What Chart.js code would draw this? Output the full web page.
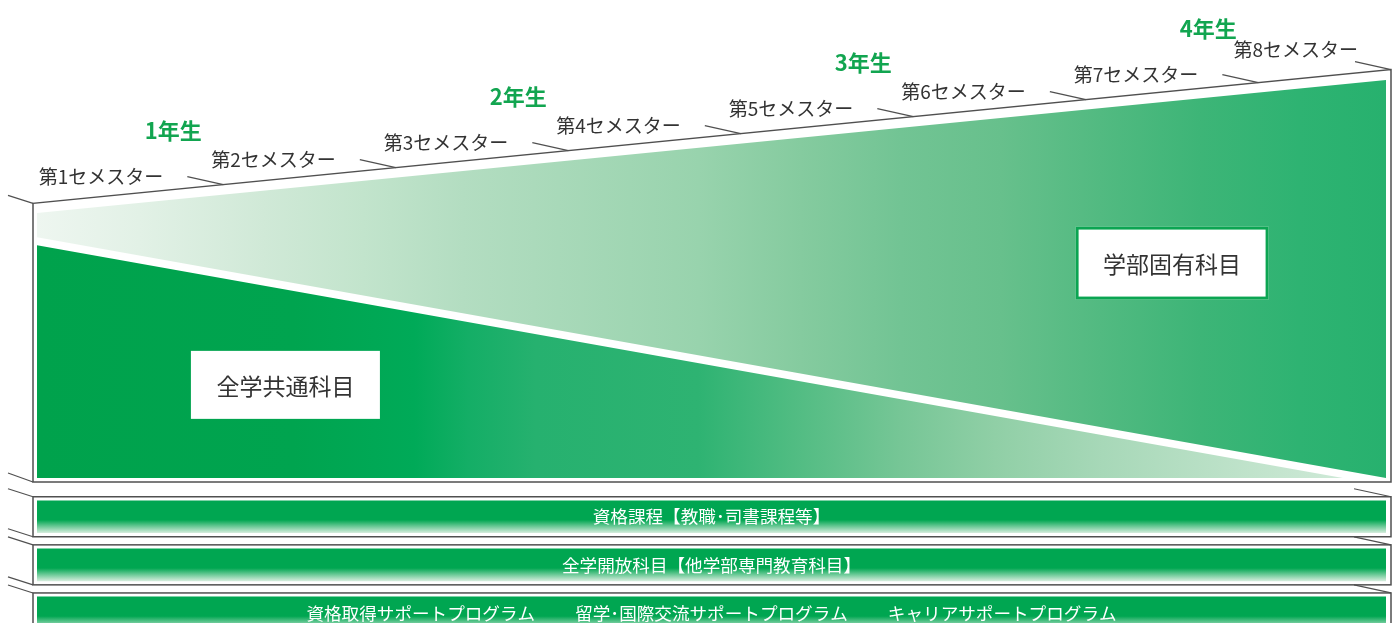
<!DOCTYPE html>
<html><head><meta charset="utf-8">
<script src="https://cdn.jsdelivr.net/npm/chart.js@4.4.1/dist/chart.umd.min.js"></script>
<style>
html,body{margin:0;padding:0;background:#fff;overflow:hidden;width:1399px;height:623px;}
#main{position:absolute;left:0;top:0;}
#bands{position:absolute;left:0;top:484px;}
</style></head><body>
<canvas id="main" width="1399" height="490"></canvas>
<canvas id="bands" width="1399" height="153"></canvas>
<script>
// ---- data ----
const semesterLabels = ['第1セメスター','第2セメスター','第3セメスター','第4セメスター','第5セメスター','第6セメスター','第7セメスター','第8セメスター'];
const semesterBoundaries = [1,2,3,4,5,6,7,8];
const yearLabels = ['1年生','2年生','3年生','4年生'];
const yearMidSemester = [1,3,5,7];
// 全学共通科目 (upper edge of the lower wedge)
const commonSubjects = [{x:-0.08,y:58.5},{x:7.49,y:0},{x:8,y:0}];
// 学部固有科目 (lower and upper edges of the upper wedge)
const facultyLower = [{x:-0.08,y:60.5},{x:8,y:-2.0}];
const facultyUpper = [{x:-0.08,y:66.6},{x:8,y:101.1}];
const areaNames = ['全学共通科目','学部固有科目'];
const programLabels = [
  ['資格課程【教職･司書課程等】'],
  ['全学開放科目【他学部専門教育科目】'],
  ['資格取得サポートプログラム','留学･国際交流サポートプログラム','キャリアサポートプログラム']
];
const programSpan = [[0,8],[0,8],[0,8]];

// ---- helpers ----
const FONT = '"Noto Sans CJK JP","Noto Sans CJK SC",sans-serif';
function hGrad(chart, stops){
  const a = chart.chartArea;
  if(!a) return stops[0][1];
  const g = chart.ctx.createLinearGradient(a.left,0,a.right,0);
  stops.forEach(([o,c])=>g.addColorStop(o,c));
  return g;
}
const commonStops = [[0,'#00a24c'],[0.19,'#00a44f'],[0.28,'#00aa58'],[0.32,'#14ae66'],[0.37,'#26b16f'],[0.49,'#2eb372'],[0.56,'#50bc82'],[0.64,'#76c696'],[0.71,'#90cfa6'],[0.79,'#a7d8b8'],[0.9,'#c0e3cb'],[1,'#d5ecdd']];
const facultyStops = [[0,'#eef6f0'],[0.076,'#e2f1e6'],[0.168,'#d0e9d7'],[0.242,'#c2e4cc'],[0.316,'#b3ddc1'],[0.491,'#98d3ad'],[0.566,'#85cb9f'],[0.64,'#72c494'],[0.714,'#67c08c'],[0.788,'#52ba81'],[0.862,'#3db577'],[0.936,'#2eb372'],[1,'#27b16e']];

function seg(c,x1,y1,x2,y2){c.beginPath();c.moveTo(x1,y1);c.lineTo(x2,y2);c.stroke();}

const mainDecor = {
  id:'mainDecor',
  afterDraw(chart){
    const c = chart.ctx, a = chart.chartArea, xs = chart.scales.x, ys = chart.scales.y;
    const p0 = {x:xs.getPixelForValue(facultyUpper[0].x), y:ys.getPixelForValue(facultyUpper[0].y)};
    const pn = facultyUpper[facultyUpper.length-1];
    const p1 = {x:xs.getPixelForValue(pn.x), y:ys.getPixelForValue(pn.y)};
    const slope = (p1.y-p0.y)/(p1.x-p0.x);
    const topAt = x => p0.y + slope*(x-p0.x) - 10;
    const L = a.left-4, R = a.right+5, B = a.bottom+4;
    c.save();
    c.strokeStyle = '#505050'; c.lineWidth = 1.5;
    c.beginPath(); c.moveTo(L,topAt(L)); c.lineTo(L,B); c.lineTo(R,B); c.lineTo(R,topAt(R)); c.closePath(); c.stroke();
    c.lineWidth = 1.2;
    seg(c, L-25, topAt(L)-8, L, topAt(L));
    seg(c, L-25, B-9, L, B);
    seg(c, R-36, topAt(R)-8, R, topAt(R));
    // semester labels
    c.font = '19px '+FONT; c.fillStyle = '#333'; c.textAlign = 'right'; c.textBaseline = 'middle';
    semesterBoundaries.forEach((b,i)=>{
      const x = Math.min(xs.getPixelForValue(b), R);
      const y = topAt(x);
      if (x < R) { seg(c, x-36, y-8, x, y); c.fillText(semesterLabels[i], x-60, y-8); }
      else { c.fillText(semesterLabels[i], x-33, y-20); }
    });
    // year labels
    c.font = 'bold 22px '+FONT; c.fillStyle = '#12a550'; c.textAlign = 'center';
    yearMidSemester.forEach((s,i)=>{
      const x = xs.getPixelForValue(s) - 50;
      c.fillText(yearLabels[i], x, topAt(x) - 59);
    });
    // area name boxes
    const boxes = [
      {name:areaNames[0], x:xs.getPixelForValue(1.36), y:ys.getPixelForValue(23.4), w:189, h:68, border:false},
      {name:areaNames[1], x:xs.getPixelForValue(6.5), y:ys.getPixelForValue(54.0), w:193, h:73, border:true}
    ];
    boxes.forEach(bx=>{
      c.fillStyle = '#fff';
      c.fillRect(bx.x-bx.w/2, bx.y-bx.h/2, bx.w, bx.h);
      if (bx.border){ c.strokeStyle = '#0ba552'; c.lineWidth = 3; c.strokeRect(bx.x-bx.w/2+1.5, bx.y-bx.h/2+1.5, bx.w-3, bx.h-3); }
      c.fillStyle = '#333'; c.font = '23px '+FONT; c.textAlign = 'center'; c.textBaseline = 'middle';
      c.fillText(bx.name, bx.x, bx.y+1);
    });
    c.restore();
  }
};

new Chart(document.getElementById('main'), {
  type:'line',
  data:{
    datasets:[
      {label:areaNames[0], data:commonSubjects, fill:'origin', borderWidth:0, pointRadius:0,
       backgroundColor:(ctx)=>hGrad(ctx.chart, commonStops)},
      {label:'faculty-lower', data:facultyLower, fill:false, borderWidth:0, pointRadius:0, backgroundColor:'transparent', borderColor:'transparent'},
      {label:areaNames[1], data:facultyUpper, fill:'-1', borderWidth:0, pointRadius:0,
       backgroundColor:(ctx)=>hGrad(ctx.chart, facultyStops)}
    ]
  },
  options:{
    responsive:false, animation:false, events:[],
    layout:{padding:{left:37,right:13,top:80,bottom:12}},
    plugins:{legend:{display:false}, tooltip:{enabled:false}},
    scales:{
      x:{type:'linear', min:-0.08, max:7.74, display:false},
      y:{type:'linear', min:0, max:100, display:false}
    },
    elements:{line:{tension:0}}
  },
  plugins:[mainDecor]
});

const bandDecor = {
  id:'bandDecor',
  afterDatasetsDraw(chart){
    const c = chart.ctx, a = chart.chartArea, meta = chart.getDatasetMeta(0);
    const L = a.left-4, R = a.right+5;
    c.save();
    meta.data.forEach((bar,i)=>{
      const top = bar.y - bar.height/2 - 4, bot = bar.y + bar.height/2 + 4;
      c.strokeStyle = '#505050'; c.lineWidth = 1.5;
      c.strokeRect(L, top, R-L, bot-top);
      c.lineWidth = 1.2;
      seg(c, L-25, top-8, L, top);
      seg(c, L-25, bot-8, L, bot);
      seg(c, R-37, top-8, R, top);
      // text
      c.font = '17.6px '+FONT; c.fillStyle = '#fff'; c.textBaseline = 'middle'; c.textAlign = 'left';
      const parts = programLabels[i], gap = 40;
      const widths = parts.map(p=>c.measureText(p).width);
      const total = widths.reduce((s,w)=>s+w,0) + gap*(parts.length-1);
      let x = (bar.base + bar.x)/2 - total/2;
      parts.forEach((p,j)=>{ c.fillText(p, x, bar.y); x += widths[j] + gap; });
    });
    c.restore();
  }
};

new Chart(document.getElementById('bands'), {
  type:'bar',
  data:{
    labels: programLabels.map(p=>p.join(' ')),
    datasets:[{
      data: programSpan, borderWidth:0, barThickness:32, borderSkipped:false,
      backgroundColor:(ctx)=>{
        const ch = ctx.chart, ys = ch.scales && ch.scales.y;
        if(!ch.chartArea || !ys) return '#00a651';
        const cy = ys.getPixelForValue(ctx.dataIndex);
        const g = ch.ctx.createLinearGradient(0, cy-16, 0, cy+16);
        g.addColorStop(0,'#00a651'); g.addColorStop(0.6,'#00a651'); g.addColorStop(1,'#d3ecdb');
        return g;
      }
    }]
  },
  options:{
    indexAxis:'y', responsive:false, animation:false, events:[],
    layout:{padding:{left:37,right:13,top:8.7,bottom:0}},
    plugins:{legend:{display:false}, tooltip:{enabled:false}},
    scales:{
      x:{type:'linear', min:0, max:8, display:false},
      y:{display:false}
    }
  },
  plugins:[bandDecor]
});
</script>
</body></html>
